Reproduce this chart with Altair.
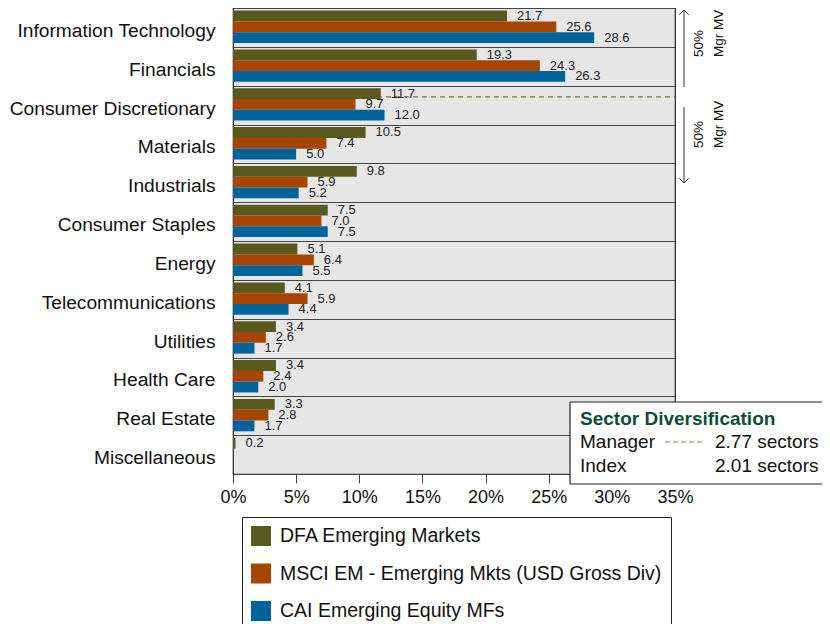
import altair as alt
import pandas as pd

sectors = ["Information Technology", "Financials", "Consumer Discretionary", "Materials",
           "Industrials", "Consumer Staples", "Energy", "Telecommunications", "Utilities",
           "Health Care", "Real Estate", "Miscellaneous"]
series = ["DFA Emerging Markets", "MSCI EM - Emerging Mkts (USD Gross Div)", "CAI Emerging Equity MFs"]
dfa = [21.7, 19.3, 11.7, 10.5, 9.8, 7.5, 5.1, 4.1, 3.4, 3.4, 3.3, 0.2]
msci = [25.6, 24.3, 9.7, 7.4, 5.9, 7.0, 6.4, 5.9, 2.6, 2.4, 2.8, None]
cai = [28.6, 26.3, 12.0, 5.0, 5.2, 7.5, 5.5, 4.4, 1.7, 2.0, 1.7, None]
colors = ["#59591f", "#a64400", "#006399"]
x_ticks = [0, 5, 10, 15, 20, 25, 30, 35]
manager_sectors = "2.77 sectors"
index_sectors = "2.01 sectors"

rows = []
for s, vals in zip(series, [dfa, msci, cai]):
    for sec, v in zip(sectors, vals):
        if v is not None:
            rows.append({"sector": sec, "series": s, "value": v})
df = pd.DataFrame(rows)

W, H = 442, 466
FONT = "Liberation Sans"

y_scale = alt.Scale(domain=sectors, paddingInner=0, paddingOuter=0)
y_axis = alt.Axis(title=None, tickBand="extent", grid=True, gridColor="#444", gridWidth=1.2,
                  ticks=False, tickSize=0, domain=False, labelFontSize=19.2, labelPadding=18,
                  labelOffset=3, labelColor="#111", labelLimit=400, zindex=0)


def Y(**kw):
    return alt.Y("sector:N", sort=sectors, scale=y_scale, axis=y_axis, **kw)


yoff = alt.YOffset("series:N", sort=series,
                   scale=alt.Scale(domain=series, paddingInner=0, paddingOuter=0.3, align=0.4))
x_enc = alt.X("value:Q", scale=alt.Scale(domain=[0, 35], nice=False),
              axis=alt.Axis(title=None, values=x_ticks, labelExpr="datum.value + '%'", grid=False,
                            domain=False, tickSize=9, tickColor="#444", labelFontSize=18,
                            labelFlush=False, labelPadding=5, labelColor="#111", zindex=0))
color = alt.Color("series:N", sort=series, scale=alt.Scale(domain=series, range=colors),
                  legend=alt.Legend(title=None, orient="none", legendX=9, legendY=509,
                                    direction="vertical", symbolType="square", symbolSize=400,
                                    symbolStrokeWidth=0, symbolOpacity=1, labelFontSize=19.5,
                                    labelOffset=9, rowPadding=17.5, padding=9,
                                    strokeColor="#222", fillColor="white", labelLimit=600,
                                    labelColor="#111"))

base = alt.Chart(df)

manager_line = alt.Chart(pd.DataFrame({"sector": ["Consumer Discretionary"], "x0": [0], "x1": [35]})).mark_rule(
    strokeDash=[5, 4], color="#77744c", strokeWidth=1.2
).encode(y=Y(bandPosition=0.29), x=alt.X("x0:Q"), x2="x1:Q")

bars = base.mark_bar(opacity=1).encode(y=Y(), yOffset=yoff, x=x_enc, color=color)
labels = base.mark_text(align="left", baseline="middle", dx=10, fontSize=13, color="#222").encode(
    y=Y(), yOffset=yoff, x="value:Q", text=alt.Text("value:Q", format=".1f"))


def one():
    return alt.Chart(alt.Data(values=[{"a": 1}]))


def txt(s, x, y, **kw):
    return one().mark_text(text=s, **kw).encode(x=alt.value(x), y=alt.value(y))


def hrule(x1, x2, y, **kw):
    return one().mark_rule(**kw).encode(x=alt.value(x1), x2=alt.value(x2), y=alt.value(y))


def vrule(x, y1, y2, **kw):
    return one().mark_rule(**kw).encode(x=alt.value(x), y=alt.value(y1), y2=alt.value(y2))


ann = [
    # right-hand 50% annotations
    vrule(451, 2, 79, color="#333", strokeWidth=1),
    one().mark_point(shape="M -1 1 L 0 0 L 1 1", filled=False, size=90, strokeWidth=1,
                     color="#333", opacity=1).encode(x=alt.value(451), y=alt.value(2)),
    txt("50%", 466, 49, angle=270, align="left", baseline="middle", fontSize=13.5, color="#111"),
    txt("Mgr MV", 486, 49, angle=270, align="left", baseline="middle", fontSize=13.5, color="#111"),
    vrule(451, 99, 175, color="#333", strokeWidth=1),
    one().mark_point(shape="M -1 -1 L 0 0 L 1 -1", filled=False, size=90, strokeWidth=1,
                     color="#333", opacity=1).encode(x=alt.value(451), y=alt.value(175)),
    txt("50%", 466, 140, angle=270, align="left", baseline="middle", fontSize=13.5, color="#111"),
    txt("Mgr MV", 486, 140, angle=270, align="left", baseline="middle", fontSize=13.5, color="#111"),
    # sector diversification box
    one().mark_rect(fill="white", strokeWidth=0).encode(
        x=alt.value(337), x2=alt.value(620), y=alt.value(394), y2=alt.value(476)),
    hrule(337, 620, 394, color="#222", strokeWidth=1.2),
    hrule(337, 620, 476, color="#222", strokeWidth=1.2),
    vrule(337, 394, 476, color="#222", strokeWidth=1.2),
    txt("Sector Diversification", 347, 411, align="left", baseline="middle", fontSize=19,
        fontWeight="bold", color="#0d4d3a"),
    txt("Manager", 347, 434, align="left", baseline="middle", fontSize=19, color="#111"),
    txt("Index", 347, 458, align="left", baseline="middle", fontSize=19, color="#111"),
    hrule(432, 472, 434, color="#b0ab85", strokeWidth=1.5, strokeDash=[5, 3]),
    txt(manager_sectors, 482, 434, align="left", baseline="middle", fontSize=19, color="#111"),
    txt(index_sectors, 482, 458, align="left", baseline="middle", fontSize=19, color="#111"),
]

chart = alt.layer(manager_line, bars, labels, *ann).properties(
    width=W, height=H,
    autosize=alt.AutoSizeParams(type="none"),
    padding={"left": 225, "top": 0, "right": 147, "bottom": 150},
).configure(font=FONT).configure_view(fill="#e6e6e6", stroke="#222", strokeWidth=1.2)

chart.save("out.html", embed_options={"renderer": "svg", "actions": False})
